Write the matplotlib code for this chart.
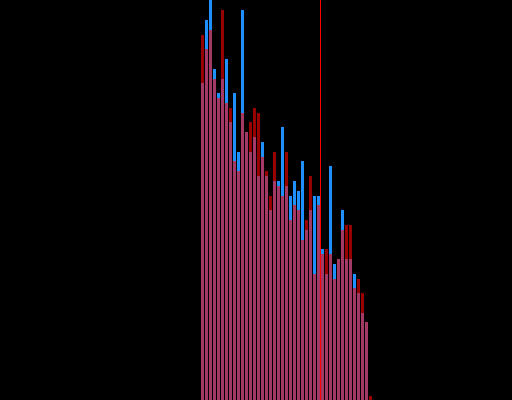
import matplotlib
matplotlib.use("Agg")
import matplotlib.pyplot as plt
import numpy as np

# bar heights (0..400 scale, taller bars are clipped)
blue_vals = [317, 380, 410, 331, 307, 321, 341, 278, 307, 248,
             390, 268, 248, 263, 224, 258, 224, 190, 219, 219,
             273, 214, 204, 219, 209, 239, 170, 190, 204, 204,
             151, 126, 234, 136, 141, 190, 141, 141, 126, 107,
             87, 78, 0]
red_vals = [365, 351, 370, 321, 302, 390, 297, 292, 239, 229,
            287, 268, 278, 292, 287, 243, 229, 204, 248, 214,
            204, 248, 180, 195, 190, 160, 180, 224, 126, 195,
            146, 151, 146, 121, 141, 170, 175, 175, 112, 121,
            107, 78, 4]
marker_x = 29.5

pos = np.arange(len(blue_vals))

fig = plt.figure(figsize=(5.12, 4.0), dpi=100, facecolor="black")
ax = fig.add_axes([0, 0, 1, 1])
ax.set_facecolor("black")

ax.bar(pos, blue_vals, width=0.75, color="#1e90ff", linewidth=0)
ax.bar(pos, red_vals, width=0.75, color="#ff0000", alpha=0.6, linewidth=0)
# marker line, one pixel wide (0.25 data units = 1 px here)
ax.axvspan(marker_x - 0.125, marker_x + 0.125, color="#ff0000", linewidth=0, zorder=5)

ax.set_xlim(-50.625, 77.375)
ax.set_ylim(0, 400)
ax.axis("off")

fig.savefig("out.png", dpi=100, facecolor="black")
